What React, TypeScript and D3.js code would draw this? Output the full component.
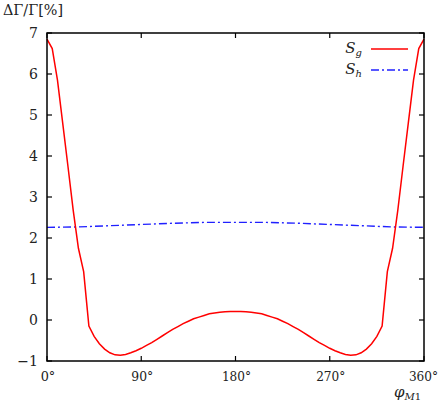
import { useEffect, useRef } from 'react';
import * as d3 from 'd3';

// S_g sampled every 5 degrees
const sgAngles = d3.range(0, 361, 5);
const sgValues = [
  6.85, 6.62, 5.85, 4.80, 3.75, 2.68, 1.75, 1.18, -0.15, -0.40,
  -0.58, -0.71, -0.80, -0.85, -0.86, -0.84, -0.80, -0.75, -0.69, -0.62,
  -0.55, -0.47, -0.39, -0.31, -0.23, -0.16, -0.09, -0.03, 0.03, 0.07,
  0.11, 0.15, 0.17, 0.19, 0.20, 0.21, 0.21, 0.21, 0.20, 0.19,
  0.17, 0.15, 0.11, 0.07, 0.03, -0.03, -0.09, -0.16, -0.23, -0.31,
  -0.39, -0.47, -0.55, -0.62, -0.69, -0.75, -0.80, -0.84, -0.86, -0.85,
  -0.80, -0.71, -0.58, -0.40, -0.15, 1.18, 1.75, 2.68, 3.75, 4.80,
  5.85, 6.62, 6.85
];

const shAngles = [0, 30, 60, 90, 120, 150, 180, 210, 240, 270, 300, 330, 360];
const shValues = [2.26, 2.27, 2.30, 2.33, 2.36, 2.38, 2.38, 2.38, 2.36, 2.33, 2.30, 2.27, 2.26];

const xTicks = [0, 90, 180, 270, 360];
const yTicks = [-1, 0, 1, 2, 3, 4, 5, 6, 7];

const FONT = "'DejaVu Serif', 'Liberation Serif', serif";

const App = () => {
  const svgRef = useRef<SVGSVGElement>(null);

  useEffect(() => {
    const svg = d3.select(svgRef.current);
    svg.selectAll('*').remove();

    const left = 47, right = 424, top = 33, bottom = 361;
    const x = d3.scaleLinear().domain([0, 360]).range([left, right]);
    const y = d3.scaleLinear().domain([-1, 7]).range([bottom, top]);
    const tickLen = 5;

    // ticks, inward on all four sides
    const ticks = svg.append('g').attr('stroke', '#000').attr('stroke-width', 1.2);
    yTicks.forEach(t => {
      ticks.append('line').attr('x1', left).attr('x2', left + tickLen).attr('y1', y(t)).attr('y2', y(t));
      ticks.append('line').attr('x1', right).attr('x2', right - tickLen).attr('y1', y(t)).attr('y2', y(t));
    });
    xTicks.forEach(t => {
      ticks.append('line').attr('x1', x(t)).attr('x2', x(t)).attr('y1', bottom).attr('y2', bottom - tickLen);
      ticks.append('line').attr('x1', x(t)).attr('x2', x(t)).attr('y1', top).attr('y2', top + tickLen);
    });

    const line = d3.line<[number, number]>()
      .x(d => x(d[0]))
      .y(d => y(d[1]));

    svg.append('path')
      .datum(shAngles.map((a, i) => [a, shValues[i]] as [number, number]))
      .attr('d', line)
      .attr('fill', 'none')
      .attr('stroke', '#2020ff')
      .attr('stroke-width', 1.4)
      .attr('stroke-dasharray', '8,3,2,3');

    svg.append('path')
      .datum(sgAngles.map((a, i) => [a, sgValues[i]] as [number, number]))
      .attr('d', line)
      .attr('fill', 'none')
      .attr('stroke', '#ff0000')
      .attr('stroke-width', 1.5);

    svg.append('rect')
      .attr('x', left).attr('y', top)
      .attr('width', right - left).attr('height', bottom - top)
      .attr('fill', 'none')
      .attr('stroke', '#000')
      .attr('stroke-width', 1.5);

    // tick labels
    const labels = svg.append('g').style('font-family', FONT).style('font-size', '14px').attr('fill', '#222');
    yTicks.forEach(t => {
      labels.append('text')
        .attr('x', 38).attr('y', y(t) + 5)
        .attr('text-anchor', 'end')
        .text(t < 0 ? `\u2212${-t}` : `${t}`);
    });
    xTicks.forEach(t => {
      const s = `${t}\u00b0`;
      labels.append('text')
        .attr('x', Math.min(x(t) + 1, 423.5)).attr('y', 381)
        .attr('text-anchor', 'middle')
        .style('font-size', '13px')
        .attr('textLength', s.length * 7.3)
        .attr('lengthAdjust', 'spacingAndGlyphs')
        .text(s);
    });

    // axis titles
    svg.append('text')
      .attr('x', 3).attr('y', 15)
      .attr('textLength', 60)
      .attr('lengthAdjust', 'spacingAndGlyphs')
      .style('font-family', FONT).style('font-size', '15px').attr('fill', '#222')
      .text('\u0394\u0393/\u0393[%]');

    const xt = svg.append('text')
      .attr('x', 394).attr('y', 397)
      .style('font-family', FONT).style('font-size', '15px').attr('fill', '#222');
    xt.append('tspan').style('font-style', 'italic').text('\u03c6');
    xt.append('tspan').attr('dy', 3).style('font-size', '10px').style('font-style', 'italic').text('M');
    xt.append('tspan').style('font-size', '10px').text('1');

    // legend
    const legend = [
      { name: 'S', sub: 'g', color: '#ff0000', dash: null, yPos: 49 },
      { name: 'S', sub: 'h', color: '#2020ff', dash: '8,3,2,3', yPos: 70 }
    ];
    legend.forEach(l => {
      const t = svg.append('text')
        .attr('x', 362).attr('y', l.yPos + 4)
        .attr('text-anchor', 'end')
        .style('font-family', FONT).style('font-size', '15px').attr('fill', '#222');
      t.append('tspan').style('font-style', 'italic').text(l.name);
      t.append('tspan').attr('dy', 3).style('font-size', '10px').style('font-style', 'italic').text(l.sub);
      svg.append('line')
        .attr('x1', 371).attr('x2', 408)
        .attr('y1', l.yPos).attr('y2', l.yPos)
        .attr('stroke', l.color)
        .attr('stroke-width', l.dash ? 1.4 : 1.5)
        .attr('stroke-dasharray', l.dash);
    });
  }, []);

  return (
    <svg
      ref={svgRef}
      width={441}
      height={409}
      style={{ position: 'absolute', left: 0, top: 0, background: '#fff' }}
    />
  );
};

export default App;
